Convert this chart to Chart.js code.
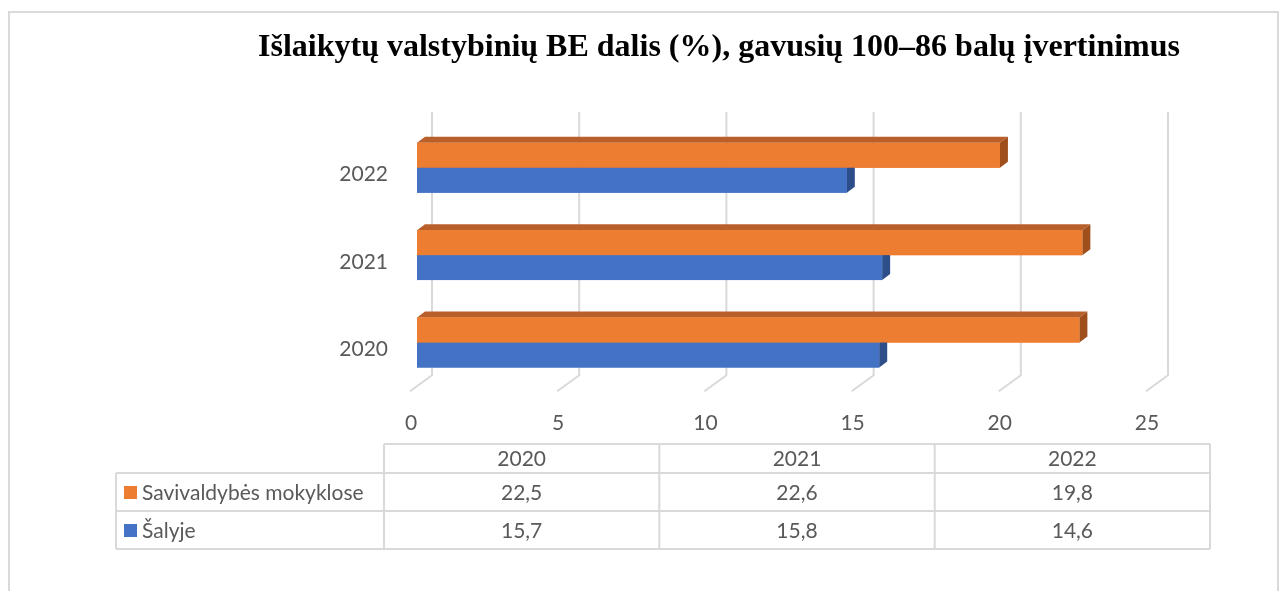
<!DOCTYPE html>
<html>
<head>
<meta charset="utf-8">
<script src="https://cdn.jsdelivr.net/npm/chart.js@4/dist/chart.umd.min.js"></script>
<style>
  html, body { margin: 0; padding: 0; background: #ffffff; }
  #wrap { position: relative; width: 1283px; height: 591px; }
</style>
</head>
<body>
<div id="wrap"><canvas id="c" width="1283" height="591"></canvas></div>
<script>
// ---- data ----
const categories = ['2020', '2021', '2022'];
const seriesNames = ['Savivaldybės mokyklose', 'Šalyje'];
const municipalValues = [22.5, 22.6, 19.8];
const nationalValues = [15.7, 15.8, 14.6];
const xTickValues = [0, 5, 10, 15, 20, 25];
const titleText = 'Išlaikytų valstybinių BE dalis (%), gavusių 100–86 balų įvertinimus';

// ---- style ----
const ORANGE = '#ED7D31', ORANGE_TOP = '#B9602A', ORANGE_SIDE = '#9E4F1C';
const BLUE = '#4472C4', BLUE_TOP = '#3A62A8', BLUE_SIDE = '#2E4E8A';
const GRID = '#D9D9D9';
const TEXT = '#595959';
const SANS = 'Lato, "Open Sans", sans-serif';
const FONT_SIZE = 21;
const DEPTH_X = 8, DEPTH_Y = 6;

function fmt(v) { return v.toFixed(1).replace('.', ','); }

const frame3d = {
  id: 'frame3d',
  beforeDraw(chart) {
    const ctx = chart.ctx;
    ctx.save();
    ctx.fillStyle = '#fff';
    ctx.fillRect(0, 0, chart.width, chart.height);
    ctx.strokeStyle = GRID;
    ctx.lineWidth = 2;
    ctx.strokeRect(9, 12, 1269, 620);
    ctx.fillStyle = '#000';
    ctx.font = 'bold 32px "Liberation Serif", "Times New Roman", serif';
    ctx.textAlign = 'center';
    ctx.textBaseline = 'middle';
    ctx.fillText(titleText, 719, 48);
    ctx.restore();
  },
  beforeDatasetsDraw(chart) {
    const ctx = chart.ctx;
    const xs = chart.scales.x;
    const area = chart.chartArea;
    ctx.save();
    ctx.strokeStyle = GRID;
    ctx.lineWidth = 2;
    xTickValues.forEach(v => {
      const p = xs.getPixelForValue(v);
      ctx.beginPath();
      ctx.moveTo(p + 15, area.top - 12);
      ctx.lineTo(p + 15, area.bottom - 11);
      ctx.lineTo(p - 7, area.bottom + 5);
      ctx.stroke();
    });
    ctx.restore();
  },
  afterDatasetsDraw(chart) {
    const ctx = chart.ctx;
    const order = [1, 0];
    const tops = [ORANGE_TOP, BLUE_TOP];
    const sides = [ORANGE_SIDE, BLUE_SIDE];
    const fronts = [ORANGE, BLUE];
    ctx.save();
    order.forEach(di => {
      const meta = chart.getDatasetMeta(di);
      meta.data.forEach(bar => {
        const p = bar.getProps(['x', 'y', 'base', 'height'], true);
        const x0 = p.base, x1 = p.x, y0 = p.y - p.height / 2, y1 = p.y + p.height / 2;
        ctx.fillStyle = tops[di];
        ctx.beginPath();
        ctx.moveTo(x0, y0);
        ctx.lineTo(x0 + DEPTH_X, y0 - DEPTH_Y);
        ctx.lineTo(x1 + DEPTH_X, y0 - DEPTH_Y);
        ctx.lineTo(x1, y0);
        ctx.closePath();
        ctx.fill();
        ctx.fillStyle = sides[di];
        ctx.beginPath();
        ctx.moveTo(x1, y0);
        ctx.lineTo(x1 + DEPTH_X, y0 - DEPTH_Y);
        ctx.lineTo(x1 + DEPTH_X, y1 - DEPTH_Y);
        ctx.lineTo(x1, y1);
        ctx.closePath();
        ctx.fill();
        ctx.fillStyle = fronts[di];
        ctx.fillRect(x0, y0, x1 - x0, y1 - y0);
      });
    });
    ctx.restore();
  },
  afterDraw(chart) {
    const ctx = chart.ctx;
    const colX = [384, 659.3, 934.7, 1210];
    const rowY = [444, 473, 511, 549];
    const left = 116;
    ctx.save();
    ctx.strokeStyle = GRID;
    ctx.lineWidth = 2;
    ctx.beginPath();
    ctx.moveTo(colX[0], rowY[0]); ctx.lineTo(colX[3], rowY[0]);
    for (let r = 1; r < rowY.length; r++) { ctx.moveTo(left, rowY[r]); ctx.lineTo(colX[3], rowY[r]); }
    ctx.moveTo(left, rowY[1]); ctx.lineTo(left, rowY[3]);
    colX.forEach(x => { ctx.moveTo(x, rowY[0]); ctx.lineTo(x, rowY[3]); });
    ctx.stroke();

    ctx.font = FONT_SIZE + 'px ' + SANS;
    ctx.fillStyle = TEXT;
    ctx.textBaseline = 'middle';
    ctx.textAlign = 'center';
    categories.forEach((c, i) => {
      ctx.fillText(c, (colX[i] + colX[i + 1]) / 2, (rowY[0] + rowY[1]) / 2 + 1);
    });
    const rows = [municipalValues, nationalValues];
    const colors = [ORANGE, BLUE];
    rows.forEach((vals, r) => {
      const cy = (rowY[r + 1] + rowY[r + 2]) / 2 + 1;
      vals.forEach((v, i) => {
        ctx.fillStyle = TEXT;
        ctx.textAlign = 'center';
        ctx.fillText(fmt(v), (colX[i] + colX[i + 1]) / 2, cy);
      });
      ctx.fillStyle = colors[r];
      ctx.fillRect(124, cy - 7, 13, 13);
      ctx.fillStyle = TEXT;
      ctx.textAlign = 'left';
      ctx.fillText(seriesNames[r], 142, cy);
    });
    ctx.restore();
  }
};

new Chart(document.getElementById('c'), {
  type: 'bar',
  data: {
    labels: categories,
    datasets: [
      { label: seriesNames[0], data: municipalValues, backgroundColor: ORANGE },
      { label: seriesNames[1], data: nationalValues, backgroundColor: BLUE }
    ]
  },
  options: {
    indexAxis: 'y',
    responsive: false,
    animation: false,
    devicePixelRatio: 1,
    categoryPercentage: 0.571,
    barPercentage: 1,
    layout: { padding: { top: 124, right: 130, left: 0, bottom: 0 } },
    plugins: { legend: { display: false }, title: { display: false }, tooltip: { enabled: false } },
    scales: {
      x: {
        min: 0, max: 25,
        afterBuildTicks: s => { s.ticks = xTickValues.map(v => ({ value: v })); },
        grid: { display: false },
        border: { display: false },
        ticks: { color: TEXT, font: { family: SANS, size: FONT_SIZE }, labelOffset: -6, padding: 16 },
        afterFit: s => { s.height = 591 - 386.25; }
      },
      y: {
        reverse: true,
        grid: { display: false },
        border: { display: false },
        ticks: { color: TEXT, font: { family: SANS, size: FONT_SIZE }, labelOffset: 7, padding: 21 },
        afterFit: s => { s.width = 417; }
      }
    }
  },
  plugins: [frame3d]
});
</script>
</body>
</html>
